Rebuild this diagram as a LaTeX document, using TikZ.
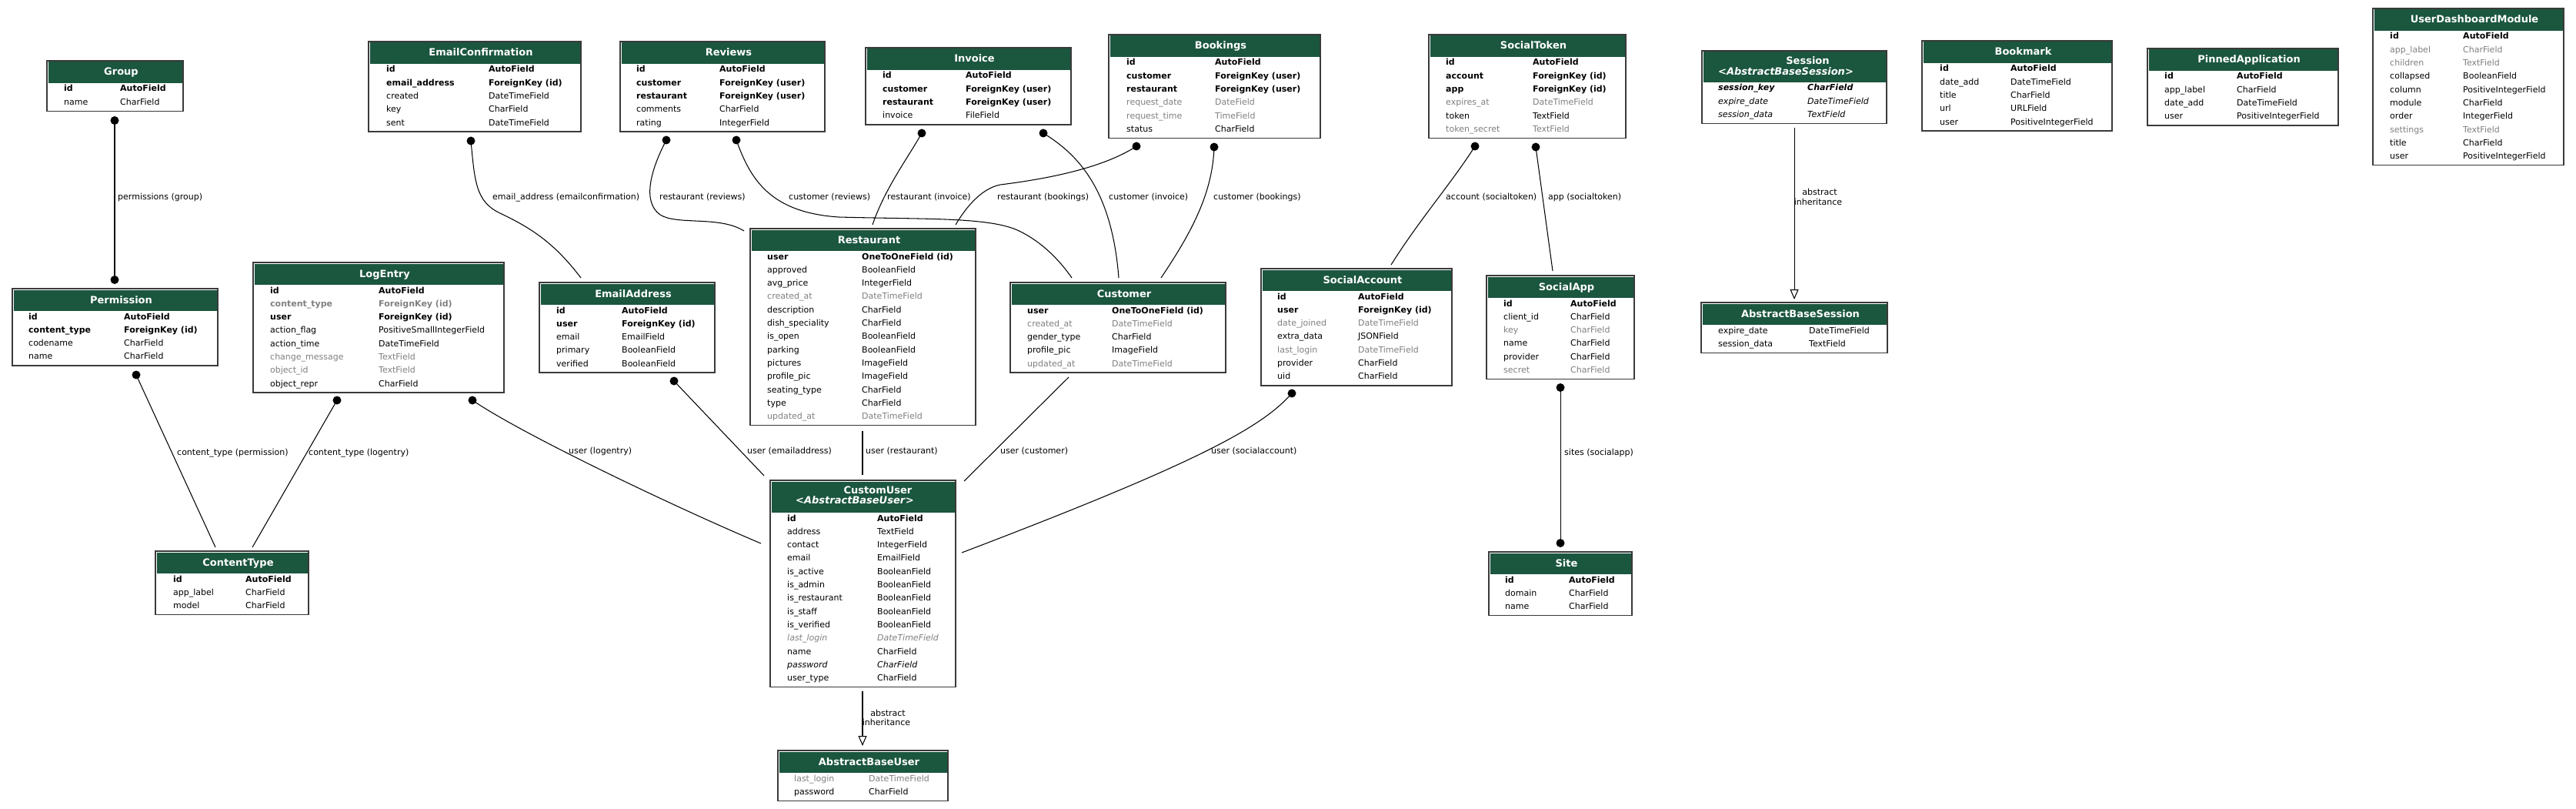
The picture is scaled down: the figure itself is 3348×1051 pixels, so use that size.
\documentclass[tikz,border=0pt]{standalone}
\usepackage{fontspec}
\setmainfont{DejaVu Sans}
\usetikzlibrary{arrows.meta}
\definecolor{hdr}{HTML}{1B563F}
\definecolor{txtgray}{HTML}{808080}
\definecolor{bordc}{HTML}{3A3A3A}
\newcommand\fsz{\fontsize{11pt}{13pt}\selectfont}
\newcommand\tsz{\fontsize{13pt}{15pt}\selectfont}
\tikzset{
  tblbox/.style={draw=bordc, line width=1.5pt, fill=white, anchor=north west, inner sep=0pt, outer sep=0pt},
  ttl/.style={font=\tsz\bfseries, text=white, anchor=base, inner sep=0pt},
  fldtxt/.style={font=\fsz, anchor=base west, inner sep=0pt, text=black},
  rowb/.style={fldtxt, font=\fsz\bfseries},
  rown/.style={fldtxt},
  rowg/.style={fldtxt, text=txtgray},
  rowgb/.style={fldtxt, font=\fsz\bfseries, text=txtgray},
  rowgi/.style={fldtxt, font=\fsz\itshape, text=txtgray},
  rowi/.style={fldtxt, font=\fsz\itshape},
  rowbi/.style={fldtxt, font=\fsz\bfseries\itshape},
  edge/.style={draw=black, line width=1.05pt},
  elabel/.style={font=\fsz, anchor=base west, inner sep=0pt},
  ilabel/.style={font=\fsz, anchor=base, inner sep=0pt},
  enddot/.style={fill=black},
  inherit/.style={edge, -{Triangle[fill=white, length=13pt, width=11pt, line width=1.05pt]}},
}
% #1 name, #2 L, #3 T, #4 R, #5 rows, #6 header height, #7 name col x, #8 type col x
\newcommand\ertbl[8]{%
  \def\erName{#1}%
  \pgfmathsetmacro\erW{#4-#2}%
  \pgfmathsetmacro\erHt{#6+1.7+17.3*#5}%
  \node[tblbox, minimum width=\erW pt, minimum height=\erHt pt] (#1) at (#2,#3) {};%
  \fill[hdr] (#2+1.5,#3+1.5) rectangle (#4-1.5,#3+#6);%
  \pgfmathsetmacro\erY{#3+#6+11}%
  \pgfmathsetmacro\erCx{(#2+#4)/2+8}%
  \pgfmathsetmacro\erTy{#3+19}%
  \def\erNX{#7}\def\erTX{#8}%
  \def\erI{0}%
}
\newcommand\erttl[1]{\node[ttl] (\erName-title) at (\erCx,\erTy) {#1};}
\newcommand\fld[3]{%
  \pgfmathtruncatemacro\erI{\erI+1}%
  \node[row#1] (\erName-n\erI) at (\erNX,\erY) {#2};%
  \node[row#1] (\erName-t\erI) at (\erTX,\erY) {#3};%
  \pgfmathsetmacro\erY{\erY+17.3}%
}
\begin{document}
\begin{tikzpicture}[x=1pt,y=-1pt]
\useasboundingbox[fill=white] (0,0) rectangle (3348,1051);

% ---------------- tables ----------------
\ertbl{Group}{61}{79}{238}{2}{29}{83}{156}
\erttl{Group}
\fld{b}{id}{AutoField}
\fld{n}{name}{CharField}

\ertbl{Permission}{16}{375}{283}{4}{29}{37}{161}
\erttl{Permission}
\fld{b}{id}{AutoField}
\fld{b}{content\_type}{ForeignKey (id)}
\fld{n}{codename}{CharField}
\fld{n}{name}{CharField}

\ertbl{EmailConfirmation}{479}{54}{755}{5}{29}{502}{635}
\erttl{EmailConfirmation}
\fld{b}{id}{AutoField}
\fld{b}{email\_address}{ForeignKey (id)}
\fld{n}{created}{DateTimeField}
\fld{n}{key}{CharField}
\fld{n}{sent}{DateTimeField}

\ertbl{Reviews}{806}{54}{1072}{5}{29}{827}{935}
\erttl{Reviews}
\fld{b}{id}{AutoField}
\fld{b}{customer}{ForeignKey (user)}
\fld{b}{restaurant}{ForeignKey (user)}
\fld{n}{comments}{CharField}
\fld{n}{rating}{IntegerField}

\ertbl{Invoice}{1125}{62}{1392}{4}{29}{1147}{1255}
\erttl{Invoice}
\fld{b}{id}{AutoField}
\fld{b}{customer}{ForeignKey (user)}
\fld{b}{restaurant}{ForeignKey (user)}
\fld{n}{invoice}{FileField}

\ertbl{Bookings}{1441}{45}{1716}{6}{29}{1464}{1579}
\erttl{Bookings}
\fld{b}{id}{AutoField}
\fld{b}{customer}{ForeignKey (user)}
\fld{b}{restaurant}{ForeignKey (user)}
\fld{g}{request\_date}{DateField}
\fld{g}{request\_time}{TimeField}
\fld{n}{status}{CharField}

\ertbl{SocialToken}{1857}{45}{2113}{6}{29}{1879}{1992}
\erttl{SocialToken}
\fld{b}{id}{AutoField}
\fld{b}{account}{ForeignKey (id)}
\fld{b}{app}{ForeignKey (id)}
\fld{g}{expires\_at}{DateTimeField}
\fld{n}{token}{TextField}
\fld{g}{token\_secret}{TextField}

\ertbl{Session}{2212}{66}{2452}{3}{41}{2233}{2349}
\node[ttl] (Session-title) at (2349.5,83.5) {Session};
\node[ttl] (Session-sub) at (2321,97.5) {<\textit{AbstractBaseSession}>};
\fld{bi}{session\_key}{CharField}
\fld{i}{expire\_date}{DateTimeField}
\fld{i}{session\_data}{TextField}

\ertbl{Bookmark}{2498}{53}{2745}{5}{29}{2521}{2613}
\erttl{Bookmark}
\fld{b}{id}{AutoField}
\fld{n}{date\_add}{DateTimeField}
\fld{n}{title}{CharField}
\fld{n}{url}{URLField}
\fld{n}{user}{PositiveIntegerField}

\ertbl{PinnedApplication}{2791}{63}{3039}{4}{29}{2813}{2907}
\erttl{PinnedApplication}
\fld{b}{id}{AutoField}
\fld{n}{app\_label}{CharField}
\fld{n}{date\_add}{DateTimeField}
\fld{n}{user}{PositiveIntegerField}

\ertbl{UserDashboardModule}{3084}{11}{3332}{10}{29}{3106}{3201}
\erttl{UserDashboardModule}
\fld{b}{id}{AutoField}
\fld{g}{app\_label}{CharField}
\fld{g}{children}{TextField}
\fld{n}{collapsed}{BooleanField}
\fld{n}{column}{PositiveIntegerField}
\fld{n}{module}{CharField}
\fld{n}{order}{IntegerField}
\fld{g}{settings}{TextField}
\fld{n}{title}{CharField}
\fld{n}{user}{PositiveIntegerField}

\ertbl{LogEntry}{329}{341}{655}{8}{29}{351}{492}
\erttl{LogEntry}
\fld{b}{id}{AutoField}
\fld{gb}{content\_type}{ForeignKey (id)}
\fld{b}{user}{ForeignKey (id)}
\fld{n}{action\_flag}{PositiveSmallIntegerField}
\fld{n}{action\_time}{DateTimeField}
\fld{g}{change\_message}{TextField}
\fld{g}{object\_id}{TextField}
\fld{n}{object\_repr}{CharField}

\ertbl{EmailAddress}{701}{367}{929}{5}{29}{723}{808}
\erttl{EmailAddress}
\fld{b}{id}{AutoField}
\fld{b}{user}{ForeignKey (id)}
\fld{n}{email}{EmailField}
\fld{n}{primary}{BooleanField}
\fld{n}{verified}{BooleanField}

\ertbl{Restaurant}{975}{297}{1268}{13}{29}{997}{1120}
\erttl{Restaurant}
\fld{b}{user}{OneToOneField (id)}
\fld{n}{approved}{BooleanField}
\fld{n}{avg\_price}{IntegerField}
\fld{g}{created\_at}{DateTimeField}
\fld{n}{description}{CharField}
\fld{n}{dish\_speciality}{CharField}
\fld{n}{is\_open}{BooleanField}
\fld{n}{parking}{BooleanField}
\fld{n}{pictures}{ImageField}
\fld{n}{profile\_pic}{ImageField}
\fld{n}{seating\_type}{CharField}
\fld{n}{type}{CharField}
\fld{g}{updated\_at}{DateTimeField}

\ertbl{Customer}{1313}{367}{1593}{5}{29}{1335}{1445}
\erttl{Customer}
\fld{b}{user}{OneToOneField (id)}
\fld{g}{created\_at}{DateTimeField}
\fld{n}{gender\_type}{CharField}
\fld{n}{profile\_pic}{ImageField}
\fld{g}{updated\_at}{DateTimeField}

\ertbl{SocialAccount}{1639}{349}{1887}{7}{29}{1660}{1765}
\erttl{SocialAccount}
\fld{b}{id}{AutoField}
\fld{b}{user}{ForeignKey (id)}
\fld{g}{date\_joined}{DateTimeField}
\fld{n}{extra\_data}{JSONField}
\fld{g}{last\_login}{DateTimeField}
\fld{n}{provider}{CharField}
\fld{n}{uid}{CharField}

\ertbl{SocialApp}{1932}{358}{2124}{6}{29}{1954}{2041}
\erttl{SocialApp}
\fld{b}{id}{AutoField}
\fld{n}{client\_id}{CharField}
\fld{g}{key}{CharField}
\fld{n}{name}{CharField}
\fld{n}{provider}{CharField}
\fld{g}{secret}{CharField}

\ertbl{ContentType}{202}{716}{401}{3}{29}{225}{319}
\erttl{ContentType}
\fld{b}{id}{AutoField}
\fld{n}{app\_label}{CharField}
\fld{n}{model}{CharField}

\ertbl{CustomUser}{1001}{624}{1242}{13}{42}{1023}{1140}
\node[ttl] (CustomUser-title) at (1141,641.5) {CustomUser};
\node[ttl] (CustomUser-sub) at (1111,654.5) {<\textit{AbstractBaseUser}>};
\fld{b}{id}{AutoField}
\fld{n}{address}{TextField}
\fld{n}{contact}{IntegerField}
\fld{n}{email}{EmailField}
\fld{n}{is\_active}{BooleanField}
\fld{n}{is\_admin}{BooleanField}
\fld{n}{is\_restaurant}{BooleanField}
\fld{n}{is\_staff}{BooleanField}
\fld{n}{is\_verified}{BooleanField}
\fld{gi}{last\_login}{DateTimeField}
\fld{n}{name}{CharField}
\fld{i}{password}{CharField}
\fld{n}{user\_type}{CharField}

\ertbl{AbstractBaseUser}{1011}{975}{1232}{2}{29}{1032}{1129}
\erttl{AbstractBaseUser}
\fld{g}{last\_login}{DateTimeField}
\fld{n}{password}{CharField}

\ertbl{AbstractBaseSession}{2211}{393}{2453}{2}{29}{2233}{2351}
\erttl{AbstractBaseSession}
\fld{n}{expire\_date}{DateTimeField}
\fld{n}{session\_data}{TextField}

\ertbl{Site}{1935}{717}{2121}{3}{29}{1956}{2039}
\erttl{Site}
\fld{b}{id}{AutoField}
\fld{n}{domain}{CharField}
\fld{n}{name}{CharField}

% ---------------- connector end points ----------------
\coordinate (gpA) at (149,156.5);  \coordinate (gpB) at (149,363.5);
\coordinate (pcA) at (177,487);    \coordinate (pcB) at (280,711);
\coordinate (lcA) at (438,520);    \coordinate (lcB) at (328,711);
\coordinate (luA) at (614,520);    \coordinate (luB) at (989,706);
\coordinate (eeA) at (612,183);    \coordinate (eeB) at (755,361);
\coordinate (rrA) at (866,182);    \coordinate (rrB) at (967,300);
\coordinate (rcA) at (957,182);    \coordinate (rcB) at (1393,361);
\coordinate (irA) at (1198,173);   \coordinate (irB) at (1134,292);
\coordinate (brA) at (1477,190);   \coordinate (brB) at (1242,292);
\coordinate (icA) at (1356,173);   \coordinate (icB) at (1454,361);
\coordinate (bcA) at (1578,191);   \coordinate (bcB) at (1509,361);
\coordinate (euA) at (876,495);    \coordinate (euB) at (993,618);
\coordinate (ruA) at (1121,560);   \coordinate (ruB) at (1121,617);
\coordinate (cuA) at (1389,490);   \coordinate (cuB) at (1253,625);
\coordinate (suA) at (1679,511);   \coordinate (suB) at (1250,718);
\coordinate (saA) at (1917,190);   \coordinate (saB) at (1808,344);
\coordinate (spA) at (1996,191);   \coordinate (spB) at (2018,352);
\coordinate (ssA) at (2028,503.5); \coordinate (ssB) at (2028,705.5);
\coordinate (isA) at (2332,166);   \coordinate (isB) at (2332,389);
\coordinate (iuA) at (1121,898);   \coordinate (iuB) at (1121,969);

% ---------------- connectors ----------------
\draw[edge] (gpA) -- (gpB);
\draw[edge] (pcA) -- (pcB);
\draw[edge] (lcA) -- (lcB);
\draw[edge] (luA) .. controls (680,565) and (880,660) .. (luB);
\draw[edge] (eeA) .. controls (617,235) and (618,262) .. (650,277) .. controls (690,296) and (720,315) .. (eeB);
\draw[edge] (rrA) .. controls (846,220) and (834,262) .. (858,279) .. controls (880,293) and (935,280) .. (rrB);
\draw[edge] (rcA) .. controls (975,232) and (1000,276) .. (1090,282) .. controls (1200,285) and (1280,282) .. (1320,298) .. controls (1350,311) and (1375,335) .. (rcB);
\draw[edge] (irA) .. controls (1180,205) and (1150,245) .. (irB);
\draw[edge] (brA) .. controls (1440,214) and (1380,230) .. (1300,240) .. controls (1275,245) and (1255,270) .. (brB);
\draw[edge] (icA) .. controls (1400,200) and (1445,245) .. (icB);
\draw[edge] (bcA) .. controls (1576,250) and (1550,300) .. (bcB);
\draw[edge] (euA) -- (euB);
\draw[edge] (ruA) -- (ruB);
\draw[edge] (cuA) -- (cuB);
\draw[edge] (suA) .. controls (1640,555) and (1560,600) .. (suB);
\draw[edge] (saA) .. controls (1885,240) and (1845,285) .. (saB);
\draw[edge] (spA) -- (spB);
\draw[edge] (ssA) -- (ssB);
\draw[inherit] (isA) -- (isB);
\draw[inherit] (iuA) -- (iuB);

% dots
\foreach \p in {gpA,gpB,pcA,lcA,luA,eeA,rrA,rcA,irA,brA,icA,bcA,euA,suA,saA,spA,ssA,ssB}
  \fill[enddot] (\p) circle (5.5pt);

% ---------------- labels ----------------
\node[elabel] (l-gp) at (153,259) {permissions (group)};
\node[elabel] (l-pc) at (230,591) {content\_type (permission)};
\node[elabel] (l-lc) at (401,591) {content\_type (logentry)};
\node[elabel] (l-lu) at (739,589) {user (logentry)};
\node[elabel] (l-ee) at (640,259) {email\_address (emailconfirmation)};
\node[elabel] (l-rr) at (857,259) {restaurant (reviews)};
\node[elabel] (l-rc) at (1025,259) {customer (reviews)};
\node[elabel] (l-ir) at (1153,259) {restaurant (invoice)};
\node[elabel] (l-br) at (1296,259) {restaurant (bookings)};
\node[elabel] (l-ic) at (1441,259) {customer (invoice)};
\node[elabel] (l-bc) at (1577,259) {customer (bookings)};
\node[elabel] (l-eu) at (971,589) {user (emailaddress)};
\node[elabel] (l-ru) at (1125,589) {user (restaurant)};
\node[elabel] (l-cu) at (1300,589) {user (customer)};
\node[elabel] (l-su) at (1574,589) {user (socialaccount)};
\node[elabel] (l-sa) at (1879,259) {account (socialtoken)};
\node[elabel] (l-sp) at (2012,259) {app (socialtoken)};
\node[elabel] (l-ss) at (2033,591) {sites (socialapp)};
\node[ilabel] (l-is1) at (2365,253) {abstract};
\node[ilabel] (l-is2) at (2363,266) {inheritance};
\node[ilabel] (l-iu1) at (1154,930) {abstract};
\node[ilabel] (l-iu2) at (1152,942) {inheritance};
\end{tikzpicture}
\end{document}
